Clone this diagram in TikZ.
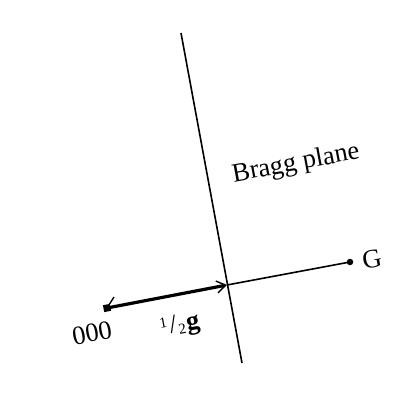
\documentclass[tikz,border=0pt]{standalone}
\usepackage{fontspec}
\setmainfont{Liberation Serif}
\usetikzlibrary{arrows.meta}
\begin{document}
\begin{tikzpicture}[x=1pt,y=-1pt,
  lbl/.style={inner sep=0pt, rotate=10.6, font=\fontsize{26.5}{26.5}\selectfont},
  dot/.style={circle, fill=black, inner sep=0pt, minimum size=6.5pt},
  thinline/.style={line width=1.6pt},
  vec/.style={line width=3.2pt, -{Straight Barb[length=9pt,width=12pt,line width=1.4pt]}}]
\useasboundingbox (0,0) rectangle (409,410);
\coordinate (top) at (181,33);
\coordinate (bot) at (242,363);
\coordinate (mid) at (227,285);
\coordinate (tick) at (114,297);
\node[dot, rectangle, minimum size=7pt, rotate=10.6] (o) at (107,308) {};
\node[dot] (g) at (350,262) {};
\draw[thinline] (top) -- (bot);
\draw[thinline] (mid) -- (g.center);
\draw[vec] (o.center) -- (mid);
\draw[line width=1.4pt] (o.center) -- (tick);
\node[lbl] (lo) at (92,333) {000};
\node[lbl] (lg) at (372,259) {G};
\node[lbl] (lb) at (296,164) {Bragg plane};
\node[lbl] (lh) at (180,326) {\raisebox{7pt}{\fontsize{15}{15}\selectfont 1}\kern2pt/\kern1pt\raisebox{-2pt}{\fontsize{15}{15}\selectfont 2}\kern1pt\textbf{g}};
\end{tikzpicture}
\end{document}
